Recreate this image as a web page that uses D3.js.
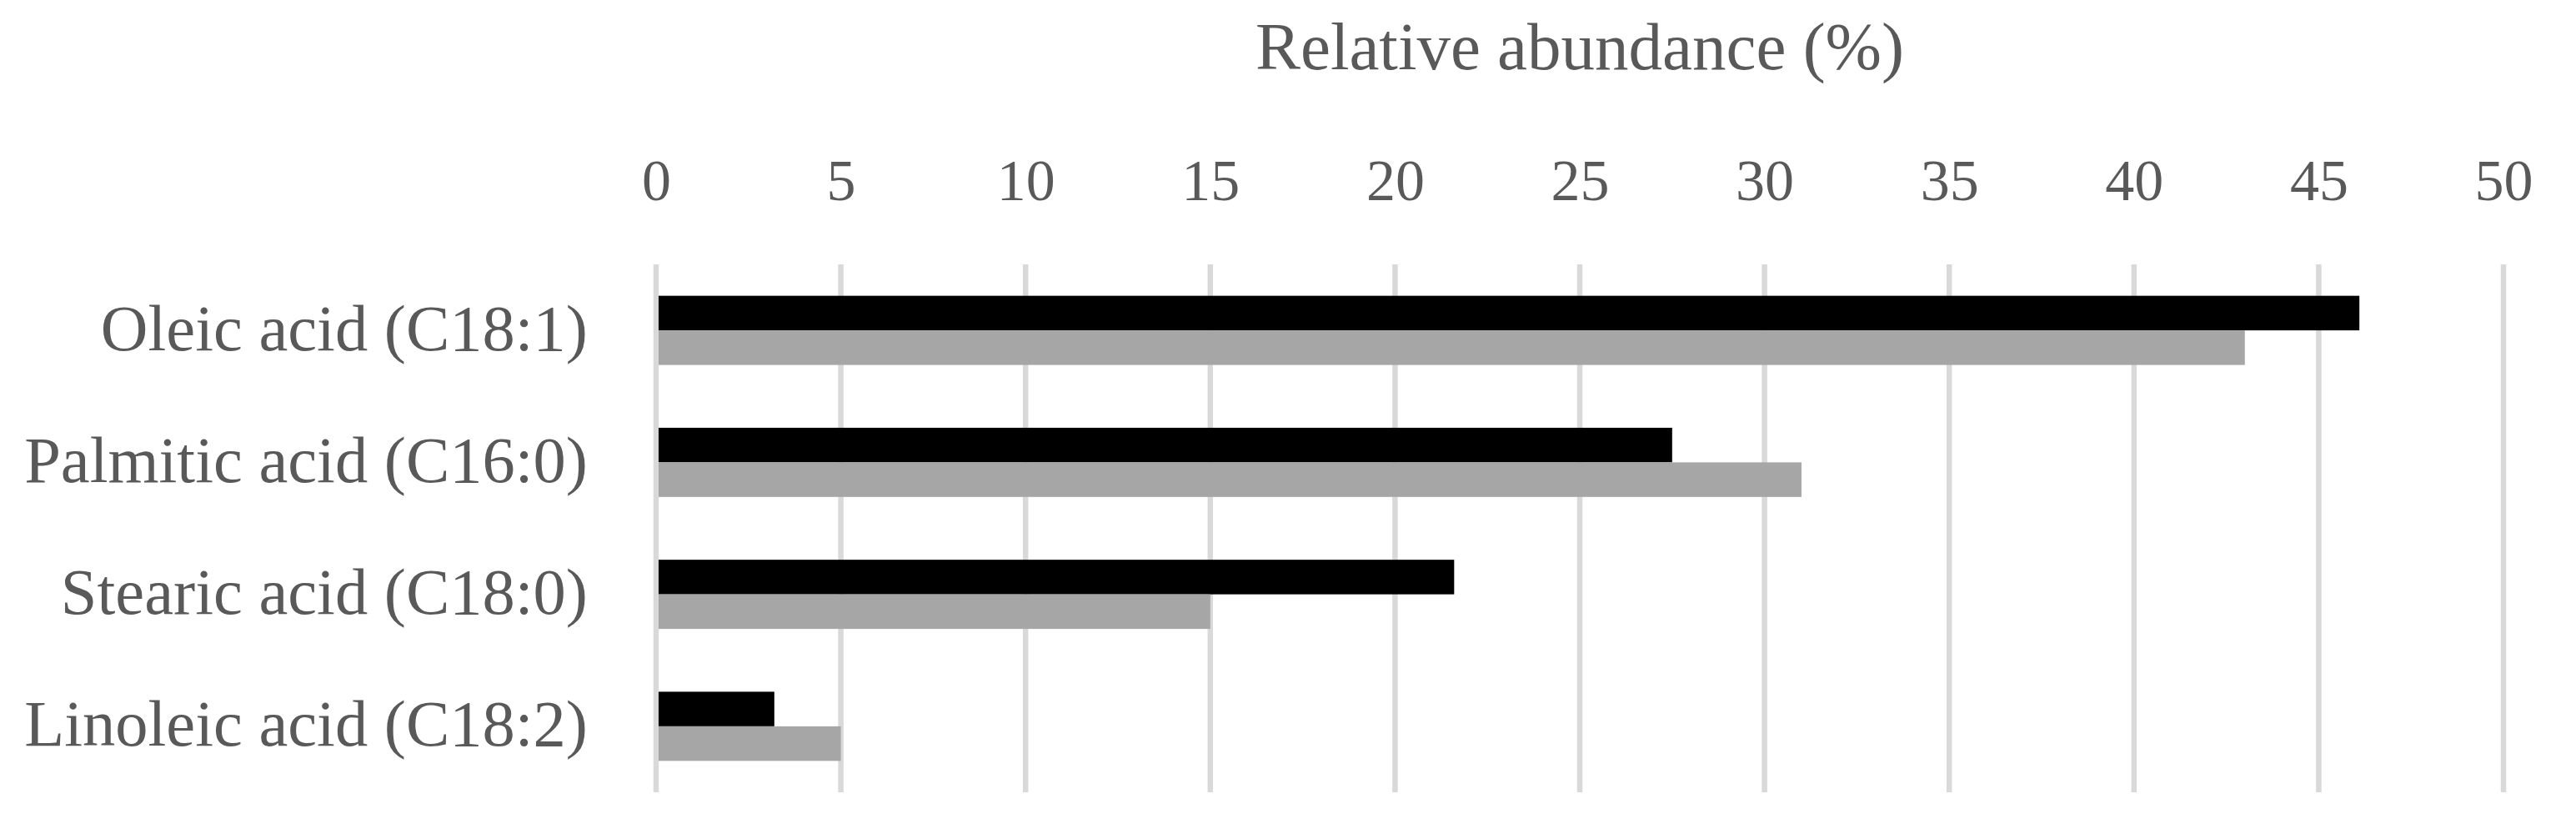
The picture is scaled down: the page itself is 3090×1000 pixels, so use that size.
<!DOCTYPE html>
<html>
<head>
<meta charset="utf-8">
<script src="https://cdn.jsdelivr.net/npm/d3@7"></script>
<style>
  html, body { margin: 0; padding: 0; background: #ffffff; }
  svg { display: block; }
  text { font-family: "Liberation Serif", "DejaVu Serif", serif; fill: #595959; }
</style>
</head>
<body>
<svg id="chart" width="3090" height="1000"></svg>
<script>
const categories = ["Oleic acid (C18:1)", "Palmitic acid (C16:0)", "Stearic acid (C18:0)", "Linoleic acid (C18:2)"];
const seriesNames = ["Series A", "Series B"];
const seriesA = [46.1, 27.5, 21.6, 3.2];
const seriesB = [43.0, 31.0, 15.0, 5.0];
const tickValues = [0, 5, 10, 15, 20, 25, 30, 35, 40, 45, 50];
const axisTitle = "Relative abundance (%)";
const colors = ["#000000", "#a6a6a6"];

const svg = d3.select("#chart");
const x = d3.scaleLinear().domain([0, 50]).range([787, 3003]);
const y = d3.scaleBand().domain(categories).range([317, 950]).paddingInner(0.476).paddingOuter(0.238);
const ySub = d3.scaleBand().domain(seriesNames).range([0, y.bandwidth()]);

// gridlines
svg.append("g").selectAll("line").data(tickValues).join("line")
  .attr("x1", d => x(d)).attr("x2", d => x(d))
  .attr("y1", 317).attr("y2", 950)
  .attr("stroke", "#d9d9d9").attr("stroke-width", 6.5);

// bars
const data = categories.map((c, i) => ({ cat: c, vals: [seriesA[i], seriesB[i]] }));
const groups = svg.append("g").selectAll("g").data(data).join("g")
  .attr("transform", d => `translate(0,${y(d.cat)})`);
groups.selectAll("rect").data(d => d.vals.map((v, j) => ({ v, s: seriesNames[j], j }))).join("rect")
  .attr("x", x(0) + 3)
  .attr("y", d => ySub(d.s))
  .attr("width", d => x(d.v) - x(0) - 3)
  .attr("height", ySub.bandwidth())
  .attr("fill", d => colors[d.j]);

// top axis tick labels
const axis = d3.axisTop(x).tickValues(tickValues).tickSize(0).tickPadding(0).tickFormat(d3.format("d"));
const ag = svg.append("g").attr("transform", "translate(0,240)").call(axis);
ag.select(".domain").remove();
ag.selectAll("text").attr("font-size", 70).attr("fill", "#595959")
  .attr("font-family", "Liberation Serif, serif").attr("dy", 0);

// category labels
const yAxis = d3.axisLeft(y).tickSize(0).tickPadding(0);
const yg = svg.append("g").attr("transform", "translate(705,0)").call(yAxis);
yg.select(".domain").remove();
yg.selectAll("text").attr("font-size", 78.5).attr("fill", "#595959")
  .attr("font-family", "Liberation Serif, serif").attr("dy", "0.3em");

// axis title
svg.append("text").attr("x", (x(0) + x(50)) / 2).attr("y", 83)
  .attr("text-anchor", "middle").attr("font-size", 81).text(axisTitle);
</script>
</body>
</html>
